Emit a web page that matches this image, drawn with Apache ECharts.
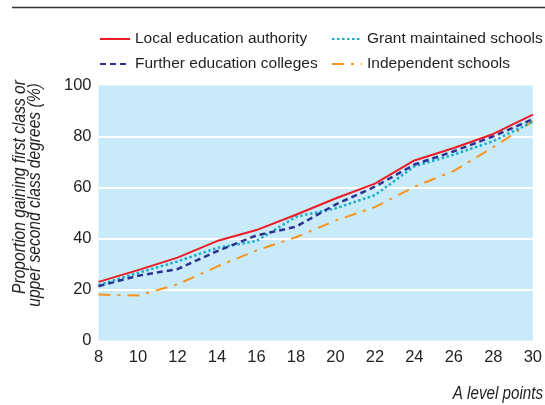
<!DOCTYPE html>
<html>
<head>
<meta charset="utf-8">
<script src="https://cdn.jsdelivr.net/npm/echarts@6/dist/echarts.min.js"></script>
<style>
html,body{margin:0;padding:0;background:#fff;}
#chart{width:545px;height:405px;}
</style>
</head>
<body>
<div id="chart"></div>
<script>
// A level points
var aLevelPoints = [8, 10, 12, 14, 16, 18, 20, 22, 24, 26, 28, 30];
var yTicks = [0, 20, 40, 60, 80, 100];
var seriesNames = ['Local education authority', 'Grant maintained schools', 'Further education colleges', 'Independent schools'];
var localEducationAuthority = [23, 27.6, 32.5, 39, 43.3, 49.3, 55.7, 61.5, 70.6, 75.5, 81, 88.6];
var grantMaintainedSchools = [21.7, 26.5, 31, 36.3, 39, 48.5, 51.8, 57, 68.3, 72.9, 78.2, 85.8];
var furtherEducationColleges = [21.3, 25.4, 28, 35, 41.2, 44.6, 53.3, 60.3, 69, 74.2, 80.1, 86.8];
var independentSchools = [18, 17.6, 22, 29, 35.3, 40.5, 47, 52.3, 60.3, 66.5, 75.8, 86];
var yAxisTitle = ['Proportion gaining first class or', 'upper second class degrees (%)'];
var xAxisTitle = 'A level points';

var FONT = "'Liberation Sans', Arial, sans-serif";
var TXT = '#231f20';
var SQ = 0.82; // horizontal squeeze to mimic a condensed face

function pairs(vals) {
  return aLevelPoints.map(function (x, i) { return [x, vals[i]]; });
}

var chart = echarts.init(document.getElementById('chart'), null, {renderer: 'canvas'});

var legendCommon = {
  orient: 'vertical',
  top: 29,
  itemWidth: 30,
  itemHeight: 14,
  itemGap: 5,
  padding: 0,
  selectedMode: false,
  textStyle: {fontFamily: FONT, fontSize: 15.5, color: TXT, lineHeight: 20}
};

var option = {
  animation: false,
  backgroundColor: '#ffffff',
  grid: {
    left: 98.5, right: 8.5, top: 85.5, bottom: 64.5,
    show: true, backgroundColor: '#c9eaf9', borderWidth: 0
  },
  legend: [
    Object.assign({}, legendCommon, {left: 99, data: [seriesNames[0], seriesNames[2]]}),
    Object.assign({}, legendCommon, {left: 331, data: [seriesNames[1], seriesNames[3]]})
  ],
  xAxis: {
    type: 'value', min: aLevelPoints[0], max: aLevelPoints[aLevelPoints.length - 1], interval: 2,
    axisLine: {show: false}, axisTick: {show: false}, splitLine: {show: false},
    axisLabel: {fontFamily: FONT, fontSize: 16.5, color: TXT, margin: 8}
  },
  yAxis: {
    type: 'value', min: yTicks[0], max: yTicks[yTicks.length - 1], interval: 20,
    axisLine: {show: false}, axisTick: {show: false},
    splitLine: {show: true, showMinLine: false, showMaxLine: false, lineStyle: {color: '#ffffff', width: 2}},
    axisLabel: {fontFamily: FONT, fontSize: 16.5, color: TXT, margin: 7}
  },
  graphic: [
    {type: 'line', shape: {x1: 12, y1: 7.5, x2: 545, y2: 7.5}, style: {stroke: '#333333', lineWidth: 1.3}, silent: true},
    {type: 'text', x: 19.5, y: 187, rotation: Math.PI / 2, scaleX: SQ,
      style: {text: yAxisTitle[0], fontFamily: FONT, fontSize: 19, fontStyle: 'italic', fill: TXT, align: 'center', verticalAlign: 'middle'}},
    {type: 'text', x: 35, y: 195, rotation: Math.PI / 2, scaleX: SQ,
      style: {text: yAxisTitle[1], fontFamily: FONT, fontSize: 19, fontStyle: 'italic', fill: TXT, align: 'center', verticalAlign: 'middle'}},
    {type: 'text', x: 543, y: 393.5, scaleX: SQ,
      style: {text: xAxisTitle, fontFamily: FONT, fontSize: 18.5, fontStyle: 'italic', fill: TXT, align: 'right', verticalAlign: 'middle'}}
  ],
  series: [
    {name: seriesNames[0], type: 'line', symbol: 'none', data: pairs(localEducationAuthority),
      lineStyle: {color: '#ed1c24', width: 2, type: 'solid'}, itemStyle: {color: 'rgba(0,0,0,0)'}, z: 5},
    {name: seriesNames[1], type: 'line', symbol: 'none', data: pairs(grantMaintainedSchools),
      lineStyle: {color: '#18aec9', width: 2.5, type: [2.5, 2.5]}, itemStyle: {color: 'rgba(0,0,0,0)'}, z: 3},
    {name: seriesNames[2], type: 'line', symbol: 'none', data: pairs(furtherEducationColleges),
      lineStyle: {color: '#2e3192', width: 2.5, type: [6, 4]}, itemStyle: {color: 'rgba(0,0,0,0)'}, z: 4},
    {name: seriesNames[3], type: 'line', symbol: 'none', data: pairs(independentSchools),
      lineStyle: {color: '#f7941d', width: 2, type: [12, 7, 3, 7]}, itemStyle: {color: 'rgba(0,0,0,0)'}, z: 2}
  ]
};
chart.setOption(option);
</script>
</body>
</html>
